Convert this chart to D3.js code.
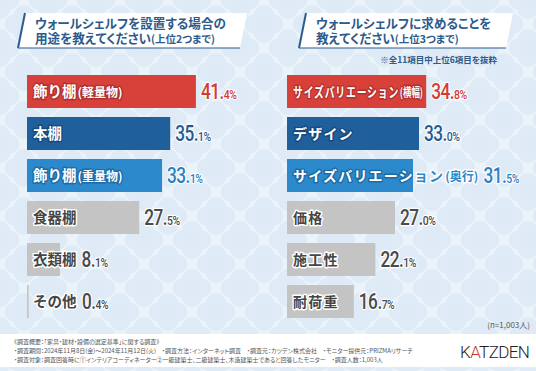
<!DOCTYPE html>
<html>
<head>
<meta charset="utf-8">
<title>ウォールシェルフ調査</title>
<script src="https://cdn.jsdelivr.net/npm/d3@7"></script>
<style>
  html, body { margin: 0; padding: 0; }
  body { width: 536px; height: 371px; overflow: hidden; background: #e4eef7; }
  svg { display: block; font-family: "Noto Sans CJK JP", "Noto Sans", sans-serif; }
  .jp { font-feature-settings: "palt"; }
</style>
</head>
<body>
<svg id="chart" width="536" height="371"></svg>
<script>
// DATA
var leftTitle = ["ウォールシェルフを設置する場合の", "用途を教えてください"];
var leftTitleNote = "(上位2つまで)";
var leftCategories = ["飾り棚(軽量物)", "本棚", "飾り棚(重量物)", "食器棚", "衣類棚", "その他"];
var leftValues = [41.4, 35.1, 33.1, 27.5, 8.1, 0.4];

var rightTitle = ["ウォールシェルフに求めることを", "教えてください"];
var rightTitleNote = "(上位3つまで)";
var rightSubNote = "※全11項目中上位6項目を抜粋";
var rightCategories = ["サイズバリエーション(横幅)", "デザイン", "サイズバリエーション(奥行)", "価格", "施工性", "耐荷重"];
var rightValues = [34.8, 33.0, 31.5, 27.0, 22.1, 16.7];

var sampleNote = "(n=1,003人)";
var footerLines = [
  "《調査概要：「家具・建材・設備の選定基準」に関する調査》",
  "・調査期間：2024年11月8日(金)～2024年11月12日(火)　・調査方法：インターネット調査　・調査元：カツデン株式会社　・モニター提供元：PRIZMAリサーチ",
  "・調査対象：調査回答時に①インテリアコーディネーター②一級建築士、二級建築士、木造建築士であると回答したモニター　・調査人数：1,003人"
];

// colours per rank
var barColors   = ["#d8403a", "#1f5f9c", "#2b89cc", "#c4c4c4", "#c4c4c4", "#c4c4c4"];
var edgeColors  = ["#b2302b", "#17497a", "#1f6aa3", null, null, null];
var valueColors = ["#d23a33", "#1f5a93", "#2a80c3", "#4a4a4a", "#4a4a4a", "#4a4a4a"];
var titleColor = "#2c5b8c";

var svg = d3.select("#chart");
var W = 536, H = 371;

// BACKGROUND
var defs = svg.append("defs");
var pat = defs.append("pattern").attr("id", "tile")
  .attr("patternUnits", "userSpaceOnUse").attr("width", 48).attr("height", 48);
pat.append("rect").attr("width", 48).attr("height", 48).attr("fill", "#ebf3fa");
function quatrefoil(cx, cy) {
  [[-9, 0], [9, 0], [0, -9], [0, 9]].forEach(function (o) {
    pat.append("circle").attr("cx", cx + o[0]).attr("cy", cy + o[1]).attr("r", 10).attr("fill", "#deeaf5");
  });
}
quatrefoil(24, 24);
[[0, 0], [48, 0], [0, 48], [48, 48]].forEach(function (c) { quatrefoil(c[0], c[1]); });
svg.append("rect").attr("width", W).attr("height", H).attr("fill", "url(#tile)");

var clipId = 0;

function splitLabel(s) {
  var i = s.indexOf("(");
  return i < 0 ? [s, ""] : [s.slice(0, i), s.slice(i)];
}

function drawTitle(g, x0, x1, lines, note) {
  g.append("path")
    .attr("d", "M" + (x0 + 7) + ",13 L" + x1 + ",13 L" + (x1 - 7) + ",48 L" + x0 + ",48 Z")
    .attr("fill", "#fff");
  g.append("line").attr("x1", x0).attr("y1", 48).attr("x2", x1 - 7).attr("y2", 48)
    .attr("stroke", titleColor).attr("stroke-width", 1);
  g.append("line").attr("x1", x0 + 7).attr("y1", 13).attr("x2", x0).attr("y2", 48)
    .attr("stroke", titleColor).attr("stroke-width", 2);
  var t = g.append("text").attr("class", "jp")
    .attr("fill", titleColor).attr("font-size", 12.6).attr("font-weight", 700);
  lines.forEach(function (s, i) {
    t.append("tspan").attr("x", x0 + 17).attr("y", 27.5 + i * 15.5).text(s);
  });
  t.append("tspan").attr("font-size", 10.5).text(note);
}

function addLabel(g, parts, x, cy, fill, stroke, size, spacing) {
  var t = g.append("text")
    .attr("x", x).attr("y", cy).attr("dy", "0.37em")
    .attr("fill", fill).attr("stroke", stroke).attr("stroke-width", 2.8)
    .attr("stroke-linejoin", "round").attr("paint-order", "stroke")
    .attr("font-weight", 700);
  t.append("tspan").attr("font-size", size).attr("letter-spacing", spacing).text(parts[0]);
  if (parts[1]) t.append("tspan").attr("font-size", 12).attr("dx", 1).text(parts[1]);
  return t;
}

function drawPanel(categories, values, xRange, size, spacing) {
  var x = d3.scaleLinear().domain([0, 100]).range(xRange);
  var y = d3.scaleBand().domain(categories).range([75, 318]).paddingInner(9 / 42).paddingOuter(0);
  var g = svg.append("g");

  categories.forEach(function (c, i) {
    var v = values[i];
    var y0 = y(c), bh = y.bandwidth(), cy = y0 + bh / 2;
    var x0 = x(0), x1 = x(v);
    var row = g.append("g");

    row.append("rect")
      .attr("x", x0).attr("y", y0)
      .attr("width", x1 - x0).attr("height", bh)
      .attr("fill", barColors[i]);

    var parts = splitLabel(c);
    var lx = x0 + 6;
    var label, labelEnd;
    if (edgeColors[i]) {
      var inId = "clipIn" + (clipId++);
      defs.append("clipPath").attr("id", inId).append("rect")
        .attr("x", x0).attr("y", y0 - 5).attr("width", x1 - x0).attr("height", bh + 10);
      var holder = row.append("g").attr("clip-path", "url(#" + inId + ")").append("g");
      label = addLabel(holder, parts, lx, cy, "#fff", edgeColors[i], size, spacing);
      var natural = label.node().getBBox().width;
      var room = x1 - lx - 3;
      labelEnd = lx + natural;
      if (natural > room && natural < room * 1.46) {
        // squeeze a label that overflows its bar only moderately
        var k = room / natural;
        holder.attr("transform", "translate(" + lx + ",0) scale(" + k + ",1) translate(" + (-lx) + ",0)");
        labelEnd = lx + room;
      } else if (natural > room) {
        // the part past the bar end is drawn in the bar colour
        var outId = "clipOut" + (clipId++);
        defs.append("clipPath").attr("id", outId).append("rect")
          .attr("x", x1).attr("y", y0 - 5).attr("width", W - x1).attr("height", bh + 10);
        addLabel(row.append("g").attr("clip-path", "url(#" + outId + ")"),
          parts, lx, cy, barColors[i], "#fff", size, spacing);
      }
    } else {
      label = addLabel(row, parts, lx, cy, "#454545", "#fff", size, spacing);
      labelEnd = lx + label.node().getBBox().width;
    }

    var vx = Math.max(x1, labelEnd) + 5;
    var s = v.toFixed(1).split(".");
    var vt = row.append("g").attr("transform", "translate(" + vx + "," + cy + ") scale(0.8,1)")
      .append("text").attr("y", 7.5)
      .attr("font-family", "Roboto, sans-serif").attr("font-weight", 500)
      .attr("fill", valueColors[i]).attr("stroke", "#fff").attr("stroke-width", 2.5)
      .attr("stroke-linejoin", "round").attr("paint-order", "stroke")
      .attr("letter-spacing", -0.6);
    vt.append("tspan").attr("font-size", 21.5).text(s[0] + ".");
    vt.append("tspan").attr("font-size", 13).text(s[1] + "%");
  });
}

drawTitle(svg.append("g"), 18, 247, leftTitle, leftTitleNote);
drawTitle(svg.append("g"), 299, 513, rightTitle, rightTitleNote);
svg.append("text").attr("class", "jp")
  .attr("x", 497).attr("y", 63).attr("text-anchor", "end")
  .attr("fill", titleColor).attr("font-size", 8.5).attr("font-weight", 700)
  .text(rightSubNote);

drawPanel(leftCategories, leftValues, [27, 435], 14.5, 0);
drawPanel(rightCategories, rightValues, [287, 687], 14, 1.2);

// FOOTER
svg.append("text").attr("class", "jp")
  .attr("x", 530).attr("y", 328).attr("text-anchor", "end")
  .attr("fill", "#555").attr("font-size", 8).text(sampleNote);

svg.append("rect").attr("x", 0).attr("y", 334).attr("width", W).attr("height", 33).attr("fill", "#fff");
footerLines.forEach(function (s, i) {
  svg.append("text").attr("class", "jp")
    .attr("x", 14).attr("y", 343.5 + i * 9)
    .attr("fill", "#555").attr("font-size", 6).text(s);
});

var logo = svg.append("text")
  .attr("x", 460).attr("y", 358)
  .attr("font-family", "Roboto, sans-serif").attr("font-weight", 300)
  .attr("font-size", 17).attr("letter-spacing", -0.6).attr("fill", "#222");
logo.append("tspan").text("K");
logo.append("tspan").attr("fill", "#c8332d").text("A");
logo.append("tspan").text("TZDEN");
</script>
</body>
</html>
